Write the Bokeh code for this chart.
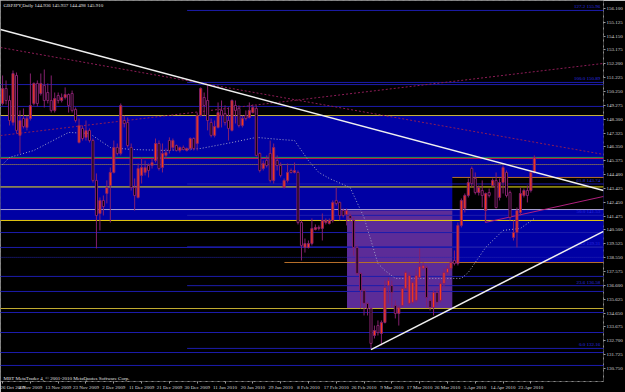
from bokeh.plotting import figure
from bokeh.models import ColumnDataSource, Range1d, FixedTicker, PrintfTickFormatter, Label
from bokeh.core.properties import value
from bokeh.embed import file_html
from bokeh.resources import INLINE

# ---------------- data ----------------
chart_title = "GBPJPY,Daily  144.936 145.937 144.498 145.910"
copyright_text = "MBT MetaTrader 4, \u00a9 2001-2010 MetaQuotes Software Corp."

date_ticks = [0, 8, 16, 24, 32, 40, 48, 56, 64, 72, 80, 88, 96, 104, 112, 120, 128, 136, 144, 152]
date_labels = ["26 Oct 2009", "4 Nov 2009", "13 Nov 2009", "23 Nov 2009", "2 Dec 2009",
               "11 Dec 2009", "21 Dec 2009", "30 Dec 2009", "11 Jan 2010", "20 Jan 2010",
               "29 Jan 2010", "8 Feb 2010", "17 Feb 2010", "26 Feb 2010", "9 Mar 2010",
               "17 Mar 2010", "26 Mar 2010", "5 Apr 2010", "14 Apr 2010", "23 Apr 2010"]

price_ticks = [156.100, 155.125, 154.150, 153.175, 152.200, 151.225, 150.250, 149.275,
               148.300, 147.325, 146.350, 145.375, 144.400, 143.425, 142.450, 141.475,
               140.500, 139.525, 138.550, 137.575, 136.600, 135.625, 134.650, 133.675,
               132.700, 131.725, 130.750]

opens = [149.41, 150.46, 149.62, 148.07, 151.38, 147.16, 148.35, 147.72, 148.35, 149.41,
         150.82, 150.11, 150.68, 150.18, 149.62, 148.92, 149.97, 149.62, 149.83, 150.04,
         150.11, 148.99, 146.66, 147.65, 147.02, 147.51, 146.80, 143.99, 141.66, 142.58,
         143.07, 143.63, 144.55, 146.31, 145.89, 148.21, 148.07, 146.31, 143.49, 142.79,
         144.34, 144.55, 145.04, 145.04, 145.39, 146.59, 144.90, 145.75, 146.80, 146.31,
         146.45, 146.10, 146.31, 146.10, 146.24, 146.94, 146.59, 148.56, 149.83, 149.62,
         148.07, 147.16, 147.72, 148.92, 148.70, 148.21, 147.51, 149.27, 149.06, 147.86,
         148.56, 148.42, 148.77, 149.06, 145.89, 144.83, 145.39, 145.89, 143.99, 145.39,
         145.04, 143.49, 143.99, 144.69, 144.55, 144.55, 141.03, 139.27, 139.27, 139.55,
         140.54, 140.61, 140.61, 141.03, 140.96, 141.17, 142.58, 142.44, 141.87, 141.59,
         141.52, 141.17, 139.27, 137.44, 136.24, 135.33, 134.97, 133.07, 133.77, 133.21,
         133.99, 136.59, 136.59, 135.18, 134.62, 135.18, 136.38, 135.33, 135.40, 135.54,
         137.16, 137.79, 137.86, 135.54, 135.04, 136.10, 135.54, 136.73, 137.51, 137.79,
         138.35, 138.14, 140.82, 142.01, 142.93, 144.83, 144.13, 143.14, 143.28, 141.87,
         143.14, 143.63, 143.99, 142.79, 143.84, 144.55, 143.14, 139.97, 140.32, 141.73,
         142.93, 143.28, 143.28, 144.55]

highs = [151.38, 151.03, 149.97, 151.73, 151.59, 148.92, 149.06, 148.56, 151.52, 150.89,
         151.03, 151.52, 151.80, 150.82, 151.38, 150.18, 150.18, 150.11, 150.54, 150.11,
         150.32, 149.13, 148.35, 147.86, 148.21, 147.65, 146.94, 144.48, 142.79, 142.93,
         143.99, 144.90, 146.80, 146.59, 149.41, 148.56, 148.42, 146.59, 144.13, 145.18,
         145.61, 145.39, 145.18, 145.54, 146.94, 146.80, 146.59, 146.24, 147.02, 146.94,
         146.52, 146.38, 146.45, 146.31, 147.02, 147.02, 148.77, 150.54, 150.18, 150.68,
         148.35, 148.21, 149.48, 149.62, 149.27, 149.13, 149.69, 149.62, 149.27, 148.56,
         148.92, 149.48, 149.34, 149.27, 145.96, 145.39, 145.75, 146.80, 146.59, 145.75,
         145.25, 144.13, 145.18, 144.83, 145.25, 144.69, 141.17, 139.90, 139.76, 141.31,
         140.89, 140.82, 141.66, 141.31, 141.31, 142.58, 143.49, 142.51, 142.01, 142.01,
         141.66, 141.38, 139.41, 137.51, 136.38, 135.40, 135.04, 133.77, 134.13, 134.13,
         136.94, 137.16, 136.94, 135.54, 135.18, 136.45, 137.65, 137.51, 136.94, 137.79,
         139.20, 138.21, 138.00, 135.68, 136.24, 136.38, 136.94, 137.79, 138.00, 138.35,
         139.06, 141.03, 142.72, 143.07, 144.13, 144.97, 144.55, 143.63, 143.99, 143.14,
         143.42, 144.13, 144.55, 144.13, 145.04, 144.69, 143.28, 141.17, 142.08, 143.49,
         143.42, 143.63, 144.69, 145.75]

lows = [149.27, 149.34, 147.86, 147.86, 147.30, 145.89, 147.65, 147.51, 148.21, 149.27,
        149.20, 149.97, 149.13, 149.41, 148.77, 148.77, 149.41, 149.48, 149.69, 148.77,
        148.77, 148.07, 146.59, 146.80, 146.80, 146.66, 143.84, 139.20, 140.47, 141.52,
        142.37, 141.03, 144.48, 145.75, 145.75, 147.72, 146.31, 143.28, 141.87, 142.72,
        143.77, 144.34, 144.20, 144.83, 145.25, 144.69, 144.55, 145.54, 145.89, 146.10,
        146.03, 145.96, 146.10, 146.03, 146.10, 146.10, 146.10, 148.49, 148.56, 147.51,
        147.02, 147.02, 147.65, 147.72, 147.86, 146.80, 147.44, 148.00, 147.72, 147.72,
        148.21, 148.35, 148.70, 145.68, 144.55, 144.69, 144.90, 143.84, 143.77, 144.69,
        144.20, 143.42, 143.84, 144.48, 144.48, 140.89, 138.35, 138.91, 139.20, 139.41,
        140.47, 140.47, 139.76, 140.89, 140.89, 141.03, 142.22, 141.17, 141.38, 140.82,
        141.03, 138.70, 137.30, 134.97, 134.48, 134.48, 132.16, 132.86, 133.07, 132.37,
        133.92, 135.33, 135.04, 134.27, 133.77, 135.04, 136.24, 135.18, 135.26, 135.40,
        137.09, 137.65, 135.04, 134.83, 134.48, 135.18, 135.40, 136.45, 137.37, 137.65,
        138.00, 138.00, 140.68, 141.73, 142.79, 143.49, 143.00, 142.93, 142.08, 141.03,
        142.79, 143.49, 142.01, 142.58, 143.07, 142.79, 141.17, 139.76, 139.27, 141.52,
        142.79, 142.44, 143.14, 144.48]

closes = [150.46, 149.62, 148.21, 151.52, 147.51, 148.21, 147.79, 148.35, 149.27, 150.82,
          149.41, 150.82, 149.62, 149.62, 148.92, 149.76, 149.62, 149.83, 150.04, 149.27,
          148.92, 148.21, 147.86, 146.94, 147.51, 146.80, 143.99, 141.52, 142.58, 142.15,
          143.49, 144.55, 146.31, 145.89, 149.27, 148.00, 146.45, 143.49, 142.93, 144.83,
          144.90, 144.90, 144.69, 145.25, 146.59, 144.83, 145.89, 145.96, 146.10, 146.80,
          146.10, 146.31, 146.17, 146.24, 146.94, 146.24, 148.56, 150.46, 149.27, 148.21,
          147.16, 147.79, 148.77, 148.56, 148.07, 147.65, 149.62, 148.92, 147.86, 148.35,
          148.35, 148.92, 149.13, 145.75, 144.69, 145.18, 145.04, 143.99, 146.31, 145.04,
          144.34, 143.99, 144.55, 144.55, 144.69, 141.03, 139.41, 139.55, 139.55, 140.61,
          140.68, 140.68, 141.17, 141.17, 141.17, 142.44, 142.37, 141.52, 141.52, 141.87,
          141.31, 139.27, 137.44, 136.24, 135.33, 134.97, 132.51, 133.42, 133.28, 133.99,
          136.45, 136.94, 136.10, 134.62, 135.04, 136.38, 137.51, 137.30, 136.80, 137.30,
          137.93, 138.00, 135.75, 135.04, 136.10, 135.40, 136.73, 137.51, 137.79, 138.21,
          138.14, 140.82, 142.58, 142.93, 143.84, 143.77, 143.14, 143.49, 142.93, 143.07,
          142.93, 143.99, 142.08, 143.84, 144.90, 142.93, 141.38, 140.32, 141.87, 143.07,
          143.28, 142.93, 144.55, 145.61]

# indicator line (dotted grey), read at selected bars
ma_bar = [0, 2, 9, 19, 25, 28, 31, 37, 47, 57, 66, 73, 80, 84, 88, 91, 94, 100, 104,
          108, 110, 113, 132, 134, 139, 144, 149, 153]
ma_val = [145.11, 145.61, 146.10, 147.37, 147.30, 146.80, 146.31, 146.17, 146.10, 146.24,
          146.66, 147.02, 146.87, 146.80, 145.39, 144.55, 144.13, 143.49, 141.38,
          138.14, 137.65, 137.09, 137.09, 137.51, 139.27, 140.47, 140.61, 141.31]

# rectangles drawn on the chart (bar index / price)
rect_left = [-2.0, 129.4, 99.1, 129.4]
rect_right = [176.0, 176.0, 129.4, 176.0]
rect_bottom = [141.17, 138.21, 134.97, 141.94]
rect_top = [148.56, 141.17, 141.87, 144.20]

# horizontal lines
hline_price = [148.56, 145.61, 145.54, 143.53, 141.94, 141.17, 134.97, 144.20, 138.21]
hline_from = [-2.0, -2.0, -2.0, -2.0, -2.0, -2.0, -2.0, 129.4, 81.1]
dotted_price = [145.11, 138.57]
navy_price = [150.74, 149.20, 140.32, 139.27, 137.23, 136.17, 134.69, 133.28, 131.87, 130.96]

# fibonacci levels
fib_level = ["127.2", "100.0", "61.8", "50.0", "38.2", "23.6", "0.0"]
fib_price = [155.96, 150.89, 143.74, 141.53, 139.31, 136.58, 132.16]
fib_from_bar = 53.1

# trend lines: white resistance, white support, dotted lines, channel
tl_x0 = [-0.6, 106.0, -0.6, -0.6, 138.9]
tl_y0 = [154.62, 132.08, 153.35, 147.15, 141.03]
tl_x1 = [172.9, 172.9, 172.9, 172.9, 172.9]
tl_y1 = [143.28, 140.40, 145.82, 152.23, 142.86]

# ---------------- styles ----------------
X0, X1 = -0.6, 172.9
Y0, Y1 = 129.83, 156.66
FONT = "Liberation Sans Narrow"
FS = "5px"
WICK = "#84206e"
UP = "#ff3c14"
rect_colors = ["#0000a4", "#0000a4", "#5c2c98", "#000000"]
hline_colors = ["#c8b43c", "#18a050", "#d01848", "#f0e418", "#aaa2d2", "#e8cc10",
                "#c0aa30", "#b8702a", "#b8702a"]
dotted_colors = ["#c8a828", "#2424b0"]
NAVY = "#1c1cac"

p = figure(width=625, height=392, x_range=Range1d(X0, X1), y_range=Range1d(Y0, Y1),
           output_backend="svg", toolbar_location=None, y_axis_location="right",
           background_fill_color="black", border_fill_color="black",
           min_border_left=0, min_border_right=0, min_border_top=0, min_border_bottom=0,
           outline_line_color="#8a8a8a", outline_line_dash="dotted")
p.grid.visible = False

# rectangles
p.quad(left=rect_left, right=rect_right, bottom=rect_bottom, top=rect_top,
       fill_color=rect_colors, line_color=None)

# navy lines
p.segment(x0=[X0 - 2] * len(navy_price), y0=navy_price, x1=[X1 + 2] * len(navy_price),
          y1=navy_price, line_color=NAVY, line_width=1)
p.segment(x0=[fib_from_bar] * len(fib_price), y0=fib_price, x1=[X1 + 2] * len(fib_price),
          y1=fib_price, line_color=NAVY, line_width=1)
# other horizontals
p.segment(x0=hline_from, y0=hline_price, x1=[X1 + 2] * len(hline_price), y1=hline_price,
          line_color=hline_colors, line_width=1)
p.segment(x0=[X0 - 2] * len(dotted_price), y0=dotted_price,
          x1=[X1 + 2] * len(dotted_price), y1=dotted_price,
          line_color=dotted_colors, line_width=1, line_dash="1 1")

# fib labels
p.text(x=[X1 - 0.6] * len(fib_price), y=fib_price,
       text=[f"{l}  {v:.2f}" for l, v in zip(fib_level, fib_price)],
       text_font=value(FONT), text_font_size=FS, text_color="#2a2ae0",
       text_align="right", text_baseline="bottom", y_offset=-1)

# dotted trend lines (behind candles)
p.segment(x0=tl_x0[2:4], y0=tl_y0[2:4], x1=tl_x1[2:4], y1=tl_y1[2:4],
          line_color="#8c1c56", line_width=1, line_dash="2 2")
p.segment(x0=tl_x0[4:], y0=tl_y0[4:], x1=tl_x1[4:], y1=tl_y1[4:],
          line_color="#b0207e", line_width=1)
p.segment(x0=[tl_x0[4]], y0=[tl_y0[4]], x1=[tl_x0[4]], y1=[tl_y0[4] + 0.7],
          line_color="#b0207e", line_width=1)

# indicator line
p.line(ma_bar, ma_val, line_color="#a0a0c8", line_width=1, line_dash="1 2")

# candles
bars = list(range(len(closes)))
src = ColumnDataSource(dict(
    x=bars, o=opens, h=highs, l=lows, c=closes,
    top=[max(o, c) for o, c in zip(opens, closes)],
    bottom=[min(o, c) for o, c in zip(opens, closes)],
    fill=[UP if c >= o else "black" for o, c in zip(opens, closes)],
))
p.segment(x0="x", y0="l", x1="x", y1="h", source=src, line_color=WICK, line_width=1)
p.vbar(x="x", width=0.6, top="top", bottom="bottom", fill_color="fill",
       line_color=WICK, line_width=1, source=src)

# white trend lines on top
p.segment(x0=tl_x0[:2], y0=tl_y0[:2], x1=tl_x1[:2], y1=tl_y1[:2],
          line_color="#f0f0f0", line_width=1.5)

# axes
p.yaxis.ticker = FixedTicker(ticks=price_ticks)
p.yaxis.formatter = PrintfTickFormatter(format="%.3f")
p.xaxis.ticker = FixedTicker(ticks=date_ticks)
p.xaxis.major_label_overrides = {t: l for t, l in zip(date_ticks, date_labels)}
for ax in (p.xaxis[0], p.yaxis[0]):
    ax.axis_line_color = None
    ax.major_tick_line_color = "#9a9a9a"
    ax.major_tick_out = 2
    ax.major_tick_in = 0
    ax.minor_tick_line_color = None
    ax.major_label_text_color = "#d8d8d8"
    ax.major_label_text_font = FONT
    ax.major_label_text_font_size = FS
    ax.major_label_standoff = 1
p.xaxis.major_label_text_align = "left"

p.add_layout(Label(x=X0, y=Y1, text=chart_title, x_offset=3, y_offset=-2,
                   text_font=FONT, text_font_size=FS, text_color="#e0e0e0",
                   text_baseline="top"))
p.add_layout(Label(x=X0, y=Y0, text=copyright_text, x_offset=3, y_offset=1,
                   text_font=FONT, text_font_size=FS, text_color="#e0e0e0",
                   text_baseline="bottom"))

open("out.html", "w").write(file_html(p, INLINE))
